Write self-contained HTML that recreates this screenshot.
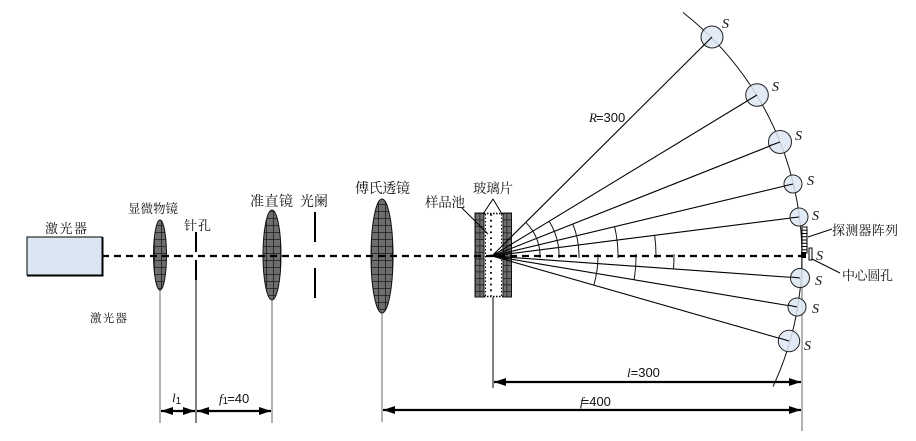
<!DOCTYPE html>
<html><head><meta charset="utf-8">
<style>
html,body{margin:0;padding:0;background:#fff;}
svg{display:block;}
.cj{font-family:"Liberation Serif","Noto Serif CJK SC","Noto Sans CJK SC",serif;fill:#111;}
.it{font-family:"Liberation Serif",serif;font-style:italic;fill:#111;}
.nm{font-family:"Liberation Sans",sans-serif;fill:#111;}
</style></head>
<body>
<svg width="916" height="441" viewBox="0 0 916 441" xmlns="http://www.w3.org/2000/svg">
<defs>
<pattern id="g" patternUnits="userSpaceOnUse" width="7" height="7" x="0" y="1">
<rect width="7" height="7" fill="#6e6e6e"/>
<path d="M0,0.4H7M0.4,0V7" stroke="#1a1a1a" stroke-width="0.8"/>
</pattern>
<pattern id="g2" patternUnits="userSpaceOnUse" width="4.5" height="6.5" x="475" y="213">
<rect width="4.5" height="6.5" fill="#6e6e6e"/>
<path d="M0,0.4H4.5M0.4,0V6.5" stroke="#1a1a1a" stroke-width="0.7"/>
</pattern>
<marker id="ah" markerWidth="12" markerHeight="8" refX="12" refY="4" orient="auto" markerUnits="userSpaceOnUse">
<path d="M0,0L12,4L0,8z" fill="#000"/>
</marker>
<marker id="at" markerWidth="12" markerHeight="8" refX="0" refY="4" orient="auto" markerUnits="userSpaceOnUse">
<path d="M12,0L0,4L12,8z" fill="#000"/>
</marker>
</defs>

<!-- laser box -->
<rect x="27" y="237" width="75" height="38" fill="#dce6f2" stroke="#000" stroke-width="1"/>
<path d="M27,275.5H102.5V237" fill="none" stroke="#000" stroke-width="2"/>

<!-- vertical reference lines (gray) -->
<g stroke="#8a8a8a" stroke-width="1.3">
<line x1="160" y1="290" x2="160" y2="423"/>
<line x1="272" y1="300" x2="272" y2="423"/>
<line x1="382" y1="313" x2="382" y2="422"/>
<line x1="802" y1="228" x2="802" y2="431"/>
</g>
<line x1="196" y1="280" x2="196" y2="423" stroke="#000" stroke-width="1"/>
<line x1="493" y1="297" x2="493" y2="388" stroke="#000" stroke-width="1"/>

<!-- lenses -->
<ellipse cx="160" cy="255" rx="6.5" ry="35" fill="url(#g)" stroke="#111" stroke-width="1"/>
<ellipse cx="272" cy="255" rx="9" ry="45" fill="url(#g)" stroke="#111" stroke-width="1"/>
<ellipse cx="382" cy="256" rx="11" ry="57" fill="url(#g)" stroke="#111" stroke-width="1"/>

<!-- pinhole -->
<g stroke="#000" stroke-width="2">
<line x1="196" y1="232" x2="196" y2="252"/>
<line x1="196" y1="260" x2="196" y2="280"/>
<!-- aperture -->
<line x1="315" y1="212" x2="315" y2="242"/>
<line x1="315" y1="268" x2="315" y2="298"/>
</g>

<!-- sample cell -->
<rect x="475" y="213" width="9" height="84" fill="url(#g2)" stroke="#111" stroke-width="1"/>
<rect x="503" y="213" width="8.5" height="84" fill="url(#g2)" stroke="#111" stroke-width="1"/>
<g stroke="#000" fill="none">
<path d="M484,213.5H503M484,296.5H503" stroke-width="1.5" stroke-dasharray="1.5,1.5"/>
<line x1="485.5" y1="214" x2="485.5" y2="296" stroke-width="1" stroke-dasharray="1.5,2"/>
<line x1="491" y1="214" x2="491" y2="296" stroke-width="1.8" stroke-dasharray="1.8,4"/>
<line x1="501.5" y1="214" x2="501.5" y2="296" stroke-width="1" stroke-dasharray="1.5,2"/>
</g>

<!-- optical axis -->
<line x1="102" y1="256" x2="803" y2="256" stroke="#000" stroke-width="2.2" stroke-dasharray="7,5"/>

<!-- big arc -->
<path d="M683,12.5 A309,309 0 0 1 773,386.6" fill="none" stroke="#111" stroke-width="1"/>

<!-- rays -->
<g stroke="#000" stroke-width="1.1">
<line x1="492" y1="256" x2="712" y2="37"/>
<line x1="492" y1="256" x2="757" y2="95"/>
<line x1="492" y1="256" x2="780" y2="142"/>
<line x1="492" y1="256" x2="793" y2="184"/>
<line x1="492" y1="256" x2="799" y2="217"/>
<line x1="492" y1="256" x2="800" y2="278"/>
<line x1="492" y1="256" x2="797" y2="307"/>
<line x1="492" y1="256" x2="789" y2="341"/>
</g>

<!-- angle arcs -->
<g fill="none" stroke="#111" stroke-width="1">
<path d="M526.2,222.8 A47,47 0 0 1 540,258"/>
<path d="M549.4,221.6 A66,66 0 0 1 559,258"/>
<path d="M572.9,224.2 A86,86 0 0 1 579,258"/>
<path d="M614.6,226.8 A125,125 0 0 1 618,258"/>
<path d="M654.7,235.4 A163,163 0 0 1 656,258"/>
<path d="M598,254 A105,105 0 0 1 593.9,285"/>
<path d="M636,254 A143,143 0 0 1 634.1,279.7"/>
<path d="M674,254 A181,181 0 0 1 673.5,268.9"/>
</g>

<!-- detectors -->
<g fill="#dde6f4" fill-opacity="0.85" stroke="#222" stroke-width="1">
<circle cx="712" cy="37" r="11"/>
<circle cx="757" cy="95" r="11.3"/>
<circle cx="780" cy="142" r="11.5"/>
<circle cx="793" cy="184" r="9"/>
<circle cx="799" cy="217" r="9"/>
<circle cx="800" cy="278" r="9.5"/>
<circle cx="797" cy="307" r="9"/>
<circle cx="789" cy="341" r="10.7"/>
</g>
<g stroke="#000" stroke-width="1.1">
<line x1="702" y1="47" x2="712" y2="37"/>
<line x1="747" y1="101" x2="757" y2="95"/>
<line x1="769" y1="146" x2="780" y2="142"/>
<line x1="784" y1="186" x2="793" y2="184"/>
<line x1="790" y1="218" x2="799" y2="217"/>
<line x1="791" y1="277" x2="800" y2="278"/>
<line x1="788" y1="305" x2="797" y2="307"/>
<line x1="779" y1="338" x2="789" y2="341"/>
</g>

<!-- detector array -->
<rect x="802" y="227" width="5" height="26" fill="#fff" stroke="#000" stroke-width="1"/>
<path d="M802,230.3H807M802,233.5H807M802,236.8H807M802,240H807M802,243.3H807M802,246.5H807M802,249.8H807" stroke="#000" stroke-width="1"/>
<rect x="801" y="252" width="5" height="6" fill="#000"/>
<rect x="809" y="248" width="3" height="12" fill="#fff" stroke="#000" stroke-width="1"/>
<line x1="808" y1="237" x2="832" y2="229" stroke="#000" stroke-width="1"/>
<line x1="812" y1="259" x2="840" y2="273" stroke="#000" stroke-width="1"/>

<!-- leader lines for cell -->
<g stroke="#000" stroke-width="1">
<line x1="493" y1="199" x2="483" y2="214"/>
<line x1="493" y1="199" x2="502" y2="214"/>
<line x1="462" y1="208" x2="488" y2="234"/>
</g>

<!-- dimension arrows -->
<g stroke="#000" stroke-width="2.2">
<line x1="161" y1="411" x2="195" y2="411" marker-start="url(#at)" marker-end="url(#ah)"/>
<line x1="197" y1="411" x2="271" y2="411" marker-start="url(#at)" marker-end="url(#ah)"/>
<line x1="494" y1="382" x2="801" y2="382" marker-start="url(#at)" marker-end="url(#ah)"/>
<line x1="383" y1="410" x2="801" y2="410" marker-start="url(#at)" marker-end="url(#ah)"/>
</g>

<!-- labels -->
<text class="cj" x="45" y="233" font-size="13" textLength="42" lengthAdjust="spacing">激光器</text>
<text class="cj" x="90" y="322" font-size="11.5" textLength="37" lengthAdjust="spacing">激光器</text>
<text class="cj" x="128" y="213" font-size="12.5" textLength="50" lengthAdjust="spacing">显微物镜</text>
<text class="cj" x="184" y="230" font-size="13" textLength="27" lengthAdjust="spacing">针孔</text>
<text class="cj" x="250" y="206" font-size="14" textLength="43" lengthAdjust="spacing">准直镜</text>
<text class="cj" x="300" y="206" font-size="14" textLength="28" lengthAdjust="spacing">光阑</text>
<text class="cj" x="355" y="193" font-size="14" textLength="55" lengthAdjust="spacing">傅氏透镜</text>
<text class="cj" x="425" y="207" font-size="13.5" textLength="40" lengthAdjust="spacing">样品池</text>
<text class="cj" x="473" y="193" font-size="13.5" textLength="40" lengthAdjust="spacing">玻璃片</text>
<text class="cj" x="832" y="235" font-size="13" textLength="66" lengthAdjust="spacing">探测器阵列</text>
<text class="cj" x="842" y="280" font-size="13" textLength="51" lengthAdjust="spacing">中心圆孔</text>

<!-- S labels -->
<g class="it" font-size="14">
<text x="722" y="28">S</text>
<text x="772" y="91">S</text>
<text x="795" y="140">S</text>
<text x="807" y="185">S</text>
<text x="812" y="220">S</text>
<text x="816" y="260">S</text>
<text x="815" y="285">S</text>
<text x="812" y="313">S</text>
<text x="804" y="350">S</text>
</g>

<!-- dimension text -->
<text x="589" y="122" font-size="13"><tspan class="it">R</tspan><tspan class="nm" dx="-1">=300</tspan></text>
<text x="172" y="402" font-size="13"><tspan class="it">l</tspan><tspan class="nm" font-size="10" dy="2">1</tspan></text>
<text x="219" y="403" font-size="13"><tspan class="it">f</tspan><tspan class="nm" font-size="10" dy="1">1</tspan><tspan class="nm" dy="-1" dx="-1">=40</tspan></text>
<text x="627" y="377" font-size="13"><tspan class="it">l</tspan><tspan class="nm">=300</tspan></text>
<text x="580" y="406" font-size="13"><tspan class="it">f</tspan><tspan class="nm" dx="-2">=400</tspan></text>
</svg>
</body></html>
